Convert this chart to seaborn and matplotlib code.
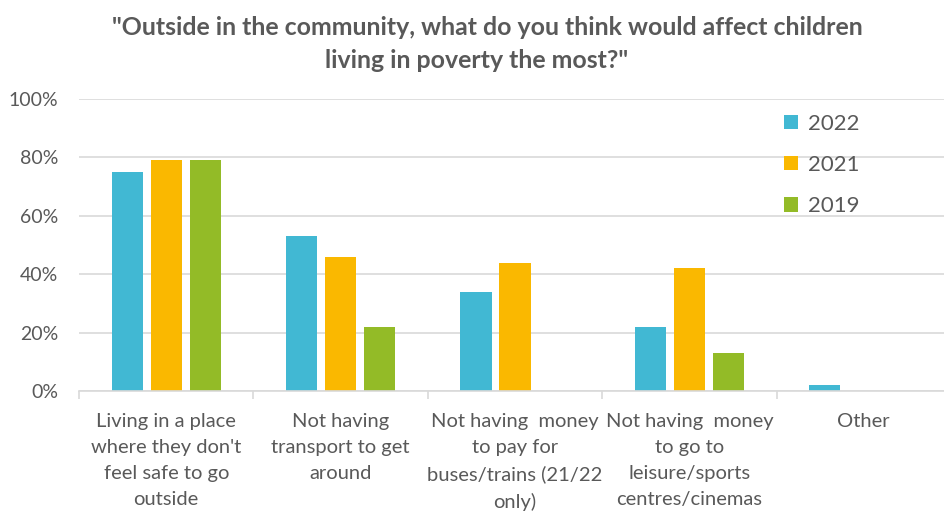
import numpy as np
import pandas as pd
import matplotlib
matplotlib.use("Agg")
import matplotlib.pyplot as plt
from matplotlib.ticker import PercentFormatter, FixedLocator
import seaborn as sns

# Survey answers (share of respondents, %)
categories = [
    "Living in a place\nwhere they don't\nfeel safe to go\noutside",
    "Not having\ntransport to get\naround",
    "Not having  money\nto pay for\nbuses/trains (21/22\nonly)",
    "Not having  money\nto go to\nleisure/sports\ncentres/cinemas",
    "Other",
]
years = ["2022", "2021", "2019"]
values_2022 = [75, 53, 34, 22, 2]
values_2021 = [79, 46, 44, 42, np.nan]
values_2019 = [79, 22, np.nan, 13, np.nan]
colors = ["#41B8D3", "#FAB800", "#93BB27"]

rows = []
for year, vals in zip(years, [values_2022, values_2021, values_2019]):
    for cat, v in zip(categories, vals):
        rows.append({"category": cat, "year": year, "share": v})
df = pd.DataFrame(rows)

sns.set_theme(style="white")
plt.rcParams["font.family"] = ["Lato", "DejaVu Sans"]

text_gray = "#595959"
grid_gray = "#D9D9D9"

fig = plt.figure(figsize=(9.44, 5.11), dpi=100)
ax = fig.add_axes([79 / 944, 120 / 511, 872 / 944, 292 / 511])

sns.barplot(
    data=df, x="category", y="share", hue="year",
    hue_order=years, order=categories, palette=colors, saturation=1,
    width=0.67, gap=0.2, errorbar=None, ax=ax, linewidth=0,
)

ax.set_xlim(-0.5, 4.5)
ax.set_ylim(0, 100)
ax.yaxis.set_major_locator(FixedLocator([0, 20, 40, 60, 80, 100]))
ax.yaxis.set_major_formatter(PercentFormatter(decimals=0))
ax.grid(axis="y", color=grid_gray, linewidth=1.2)
ax.set_axisbelow(True)
for side in ["top", "right", "left"]:
    ax.spines[side].set_visible(False)
ax.spines["bottom"].set_color(grid_gray)
ax.spines["bottom"].set_linewidth(1.2)

ax.set_xlabel("")
ax.set_ylabel("")
ax.tick_params(axis="y", length=0, pad=15, labelsize=14, labelcolor=text_gray)
ax.tick_params(axis="x", which="major", length=0, pad=16, labelsize=14.5,
               labelcolor=text_gray)
for lab in ax.get_xticklabels():
    lab.set_linespacing(1.63)
ax.set_xticks(np.arange(-0.5, 5.0, 1.0), minor=True)
ax.tick_params(axis="x", which="minor", length=6, width=1.2, color=grid_gray,
               direction="out", bottom=True)

handles, labels = ax.get_legend_handles_labels()
ax.legend(
    handles, labels, loc="upper left", bbox_to_anchor=(764 / 944, 1 - 94 / 511),
    bbox_transform=fig.transFigure, frameon=False, fontsize=16,
    handlelength=0.62, handleheight=0.62, handletextpad=0.45, labelspacing=0.95,
    labelcolor=text_gray,
)

fig.text(0.516, 1 - 27 / 511, "\"Outside in the community, what do you think would affect children",
         ha="center", va="center", fontsize=17.9, fontweight="bold", color=text_gray)
fig.text(0.505, 1 - 60 / 511, "living in poverty the most?\"",
         ha="center", va="center", fontsize=17.9, fontweight="bold", color=text_gray)

fig.savefig("out.png", dpi=100, facecolor="white")
